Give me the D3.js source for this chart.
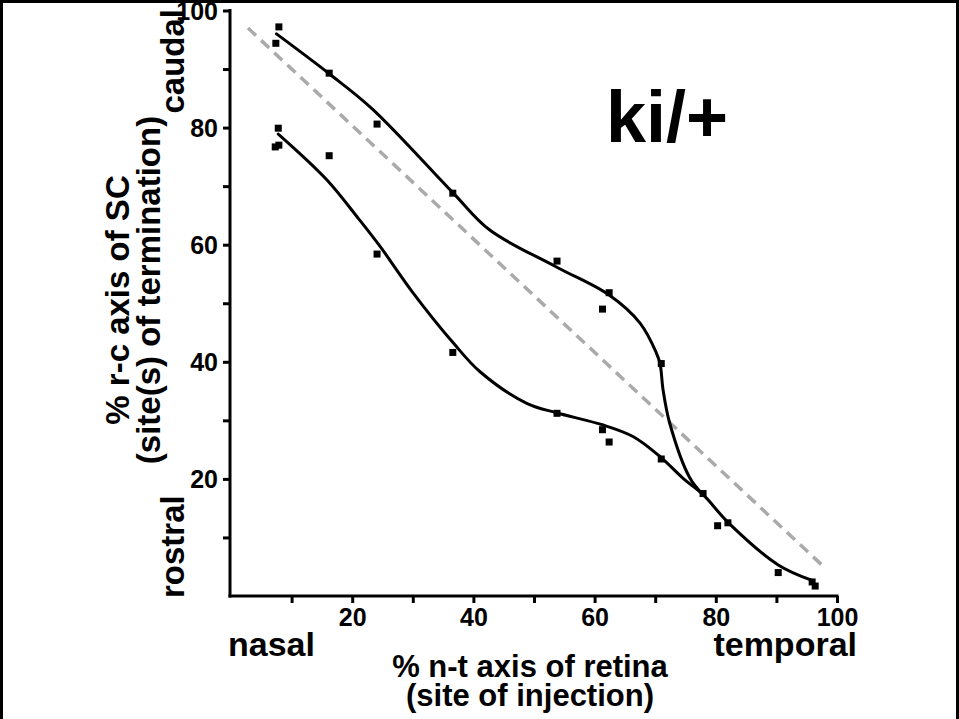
<!DOCTYPE html>
<html>
<head>
<meta charset="utf-8">
<script src="https://cdn.jsdelivr.net/npm/d3@7"></script>
<style>
  html, body { margin: 0; padding: 0; background: #fff; }
  svg { display: block; }
  text { font-family: "Liberation Sans", Arial, Helvetica, sans-serif; font-weight: bold; fill: #000; }
</style>
</head>
<body>
<svg id="chart" width="959" height="719"></svg>
<script>
// ---- data ----
const xTicks = [10, 20, 30, 40, 50, 60, 70, 80, 90, 100];
const yTicks = [10, 20, 30, 40, 50, 60, 70, 80, 90, 100];
const labelledTicks = [20, 40, 60, 80, 100];

// measured points: caudal (upper) branch
const upperPtsX = [7.9, 7.4, 16.2, 24.1, 36.6, 53.8, 62.4, 61.3, 71.0, 77.9];
const upperPtsY = [97.2, 94.4, 89.3, 80.6, 68.8, 57.2, 51.8, 49.0, 39.7, 17.5];
// measured points: rostral (lower) branch
const lowerPtsX = [7.8, 7.3, 7.9, 16.2, 24.1, 36.6, 53.8, 61.3, 62.4, 71.0, 80.3, 82.0, 90.3, 95.9, 96.4];
const lowerPtsY = [79.9, 76.7, 77.0, 75.2, 58.4, 41.6, 31.2, 28.4, 26.3, 23.4, 12.0, 12.5, 4.0, 2.4, 1.7];

// fitted curves as drawn in the figure
const upperFitX = [7.5, 16.2, 23.3, 36.6, 42.7, 53.7, 62.4, 67.5, 70.2, 70.8, 71.3, 72.4, 75.7, 77.9];
const upperFitY = [96.0, 89.2, 83.2, 68.9, 62.5, 56.2, 51.4, 46.6, 41.5, 39.7, 35.2, 29.5, 20.2, 17.3];
const lowerFitX = [7.8, 15.8, 21.0, 24.6, 30.1, 36.7, 41.1, 48.8, 53.7, 61.4, 66.4, 70.8, 74.6, 77.9, 82.1, 90.3, 95.8];
const lowerFitY = [78.9, 71.1, 64.5, 59.7, 51.7, 43.2, 38.3, 32.9, 31.3, 29.2, 27.2, 23.8, 20.1, 17.3, 12.5, 5.3, 2.7];

// dashed reference diagonal
const diagX = [2.8, 97.5];
const diagY = [97.0, 5.3];

// ---- drawing ----
const svg = d3.select("#chart");

const x = d3.scaleLinear().domain([0, 100]).range([231, 837]);
const y = d3.scaleLinear().domain([0, 100]).range([596, 10.5]);

// frame
svg.append("rect")
  .attr("x", 1.5).attr("y", 1.5)
  .attr("width", 956).attr("height", 730)
  .attr("fill", "none").attr("stroke", "#000").attr("stroke-width", 3);

// axes
const fmt = d => labelledTicks.includes(d) ? d : "";
const gx = svg.append("g").attr("transform", "translate(0,596)")
  .call(d3.axisBottom(x).tickValues(xTicks).tickSize(7).tickSizeOuter(0).tickPadding(5).tickFormat(fmt));
const gy = svg.append("g").attr("transform", "translate(230,0)")
  .call(d3.axisLeft(y).tickValues(yTicks).tickSize(7).tickSizeOuter(0).tickPadding(5).tickFormat(fmt));

[gx, gy].forEach(g => {
  g.select(".domain").attr("stroke", "#000").attr("stroke-width", 3).attr("stroke-linecap", "square");
  g.selectAll(".tick line").attr("stroke", "#000").attr("stroke-width", 3);
  g.selectAll(".tick text").attr("font-size", 25).attr("font-family", "Liberation Sans, Arial, sans-serif")
    .attr("font-weight", "bold").attr("fill", "#000");
});
gy.selectAll(".tick text").attr("dy", "0.36em");
gy.select(".domain").attr("d", `M0,${y(0)}V${y(100)}`);
gx.select(".domain").attr("d", `M${x(0) - 1},0H${x(100)}`);

// dashed diagonal
svg.append("path")
  .datum(diagX.map((d, i) => [d, diagY[i]]))
  .attr("d", d3.line().x(d => x(d[0])).y(d => y(d[1])))
  .attr("fill", "none").attr("stroke", "#aaaaaa").attr("stroke-width", 3.5)
  .attr("stroke-dasharray", "11,7");

// fitted curves
const line = d3.line().x(d => x(d[0])).y(d => y(d[1])).curve(d3.curveCatmullRom.alpha(0.5));
[[upperFitX, upperFitY], [lowerFitX, lowerFitY]].forEach(([xs, ys]) => {
  svg.append("path")
    .datum(xs.map((d, i) => [d, ys[i]]))
    .attr("d", line)
    .attr("fill", "none").attr("stroke", "#000").attr("stroke-width", 3)
    .attr("stroke-linejoin", "round").attr("stroke-linecap", "round");
});

// points
const pts = upperPtsX.map((d, i) => [d, upperPtsY[i]])
  .concat(lowerPtsX.map((d, i) => [d, lowerPtsY[i]]));
svg.selectAll("rect.pt").data(pts).enter().append("rect")
  .attr("class", "pt")
  .attr("x", d => x(d[0]) - 3.5).attr("y", d => y(d[1]) - 3.5)
  .attr("width", 7).attr("height", 7).attr("fill", "#000");

// title
svg.append("text").attr("x", 606).attr("y", 142).attr("font-size", 72).text("ki/+");

// x-axis labels
svg.append("text").attr("x", 228).attr("y", 656).attr("font-size", 34).text("nasal");
svg.append("text").attr("x", 857).attr("y", 656).attr("font-size", 34).attr("text-anchor", "end").text("temporal");
svg.append("text").attr("x", 530).attr("y", 677).attr("font-size", 31).attr("text-anchor", "middle").text("% n-t axis of retina");
svg.append("text").attr("x", 530).attr("y", 706).attr("font-size", 31).attr("text-anchor", "middle").text("(site of injection)");

// y-axis labels (rotated)
function vtext(tx, ty, s, anchor, fs) {
  svg.append("text").attr("transform", `translate(${tx},${ty}) rotate(-90)`)
    .attr("font-size", fs).attr("text-anchor", anchor).text(s);
}
vtext(129, 300, "% r-c axis of SC", "middle", 33);
vtext(160, 290, "(site(s) of termination)", "middle", 33);
vtext(184, 598, "rostral", "start", 33);
vtext(184, 9, "caudal", "end", 33);
</script>
</body>
</html>
